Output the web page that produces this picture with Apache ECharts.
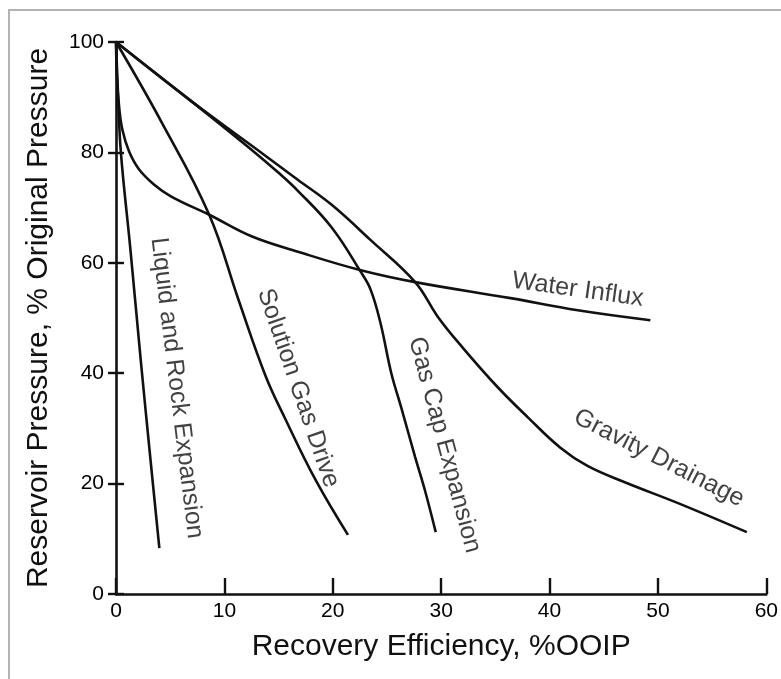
<!DOCTYPE html>
<html>
<head>
<meta charset="utf-8">
<script src="https://cdn.jsdelivr.net/npm/echarts@6/dist/echarts.min.js"></script>
<style>
html,body{margin:0;padding:0;background:#fff;}
#chart{width:781px;height:679px;}
</style>
</head>
<body>
<div id="chart"></div>
<script>
// Data: [recovery efficiency %OOIP, reservoir pressure % original]
const liquidRock = [[0,100],[0.2,90],[0.45,80],[1.35,62],[2.3,42],[3.2,24],[4.0,8.3]];
const solutionGas = [[0,100],[4.2,85.5],[8.6,68.7],[11.3,53.3],[13.8,39.5],[15.6,31.8],[18.4,20.7],[21.4,10.7]];
const gasCap = [[0,100],[7,89.2],[12.5,80.5],[15,76.3],[16.8,73],[19.9,66.4],[22.6,58.3],[23.5,55.1],[24.4,49.1],[25.4,40.0],[26.3,33.9],[27.6,24.8],[28.5,18.8],[29.5,11.2]];
const waterInflux = [[0,100],[0.1,93],[0.3,88],[0.6,84],[1.2,80.2],[2.1,77],[3.5,74.2],[5.1,72],[8.6,68.7],[12.5,64.8],[16.8,62],[22.5,58.7],[27.6,56.5],[36.4,53.6],[42.6,51.4],[49.3,49.6]];
const gravityDrainage = [[0,100],[7,89.2],[13.5,79.8],[16.8,75],[19.9,70.5],[23.5,64.1],[27.6,56.5],[29.7,50.2],[32,44.6],[35.2,37.5],[38,32],[41,26.5],[43.5,23.2],[47,20.2],[51.8,16.5],[58.2,11.2]];

const xTicks = [0,10,20,30,40,50,60];
const yTicks = [0,20,40,60,80,100];

// curve annotations: text, anchor [x, y] in data units, rotation (deg)
const labelTexts = ['Liquid and Rock Expansion','Solution Gas Drive','Gas Cap Expansion','Water Influx','Gravity Drainage'];
const labelAnchors = [[5.6,37.3],[16.8,37.3],[30.3,27.0],[42.6,55.1],[50.1,24.6]];
const labelRotations = [-83,-71,-75,-8,-27];

const FONT = "'Liberation Sans', Arial, Helvetica, sans-serif";
const chart = echarts.init(document.getElementById('chart'), null, {renderer:'canvas'});

function curve(name, data){
  return {
    name, type:'line', data, smooth:0.4, symbol:'none',
    lineStyle:{color:'#111', width:2.6}, z:3
  };
}

const option = {
  backgroundColor:'#fff',
  animation:false,
  grid:{left:116, right:12, top:42, bottom:85},
  xAxis:{
    type:'value', min:xTicks[0], max:xTicks[xTicks.length-1], interval:xTicks[1]-xTicks[0],
    name:'Recovery Efficiency, %OOIP', nameLocation:'middle', nameGap:38,
    nameTextStyle:{fontFamily:FONT, fontSize:30, color:'#111'},
    axisLine:{show:true, onZero:false, lineStyle:{color:'#111', width:2.6}},
    axisTick:{show:true, inside:true, length:16, lineStyle:{color:'#111', width:2.4}},
    axisLabel:{fontFamily:FONT, fontSize:21, color:'#000', margin:7},
    splitLine:{show:false}
  },
  yAxis:[{
    type:'value', min:yTicks[0], max:yTicks[yTicks.length-1], interval:yTicks[1]-yTicks[0],
    name:'Reservoir Pressure, % Original Pressure', nameLocation:'middle', nameGap:62,
    nameTextStyle:{fontFamily:FONT, fontSize:30, color:'#111'},
    axisLine:{show:true, lineStyle:{color:'#111', width:2.6}},
    axisTick:{show:true, inside:false, length:8, lineStyle:{color:'#111', width:2.4}},
    axisLabel:{fontFamily:FONT, fontSize:21, color:'#000', margin:12},
    splitLine:{show:false}
  },{
    type:'value', min:yTicks[0], max:yTicks[yTicks.length-1], interval:yTicks[1]-yTicks[0], position:'left',
    axisLine:{show:false},
    axisTick:{show:true, inside:true, length:8, lineStyle:{color:'#111', width:2.4}},
    axisLabel:{show:false},
    splitLine:{show:false}
  }],
  graphic:[
    {type:'line', shape:{x1:8, y1:10, x2:781, y2:10}, style:{stroke:'#b3b3b3', lineWidth:2}},
    {type:'line', shape:{x1:9, y1:10, x2:9, y2:679}, style:{stroke:'#b3b3b3', lineWidth:2}}
  ],
  series:[
    curve('Liquid and Rock Expansion', liquidRock),
    curve('Solution Gas Drive', solutionGas),
    curve('Gas Cap Expansion', gasCap),
    curve('Water Influx', waterInflux),
    curve('Gravity Drainage', gravityDrainage),
    {
      type:'scatter', symbolSize:0, silent:true, z:4,
      data: labelTexts.map((t,i)=>({
        name:t, value:labelAnchors[i],
        label:{show:true, formatter:t, rotate:labelRotations[i], position:'inside',
               align:'center', verticalAlign:'middle',
               fontFamily:FONT, fontSize:25, color:'#111'}
      }))
    }
  ]
};
chart.setOption(option);
</script>
</body>
</html>
